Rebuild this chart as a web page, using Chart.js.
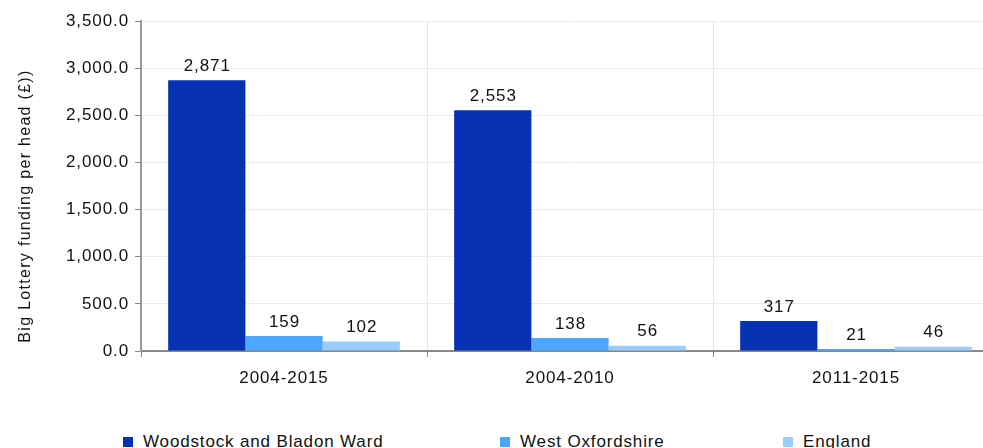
<!DOCTYPE html>
<html><head><meta charset="utf-8">
<script src="https://cdn.jsdelivr.net/npm/chart.js@4"></script>
<style>
html,body{margin:0;padding:0;background:#fff;overflow:hidden;width:983px;height:448px;}
#wrap{position:absolute;left:0;top:0;width:1000px;height:400px;}
.lg{position:absolute;top:431px;font:17px "Liberation Sans",Arial,sans-serif;letter-spacing:0.85px;color:#111;white-space:nowrap;line-height:22px;}
.lg i{display:inline-block;width:10px;height:10px;margin-right:10px;vertical-align:0px;}
</style></head><body>
<div id="wrap"><canvas id="c" width="1000" height="400"></canvas></div>
<div class="lg" style="left:123px"><i style="background:#0531B2"></i>Woodstock and Bladon Ward</div>
<div class="lg" style="left:500px"><i style="background:#4DA6FF"></i>West Oxfordshire</div>
<div class="lg" style="left:783px"><i style="background:#99CCFF"></i>England</div>
<script>
const categories = ["2004-2015", "2004-2010", "2011-2015"];
const seriesNames = ["Woodstock and Bladon Ward", "West Oxfordshire", "England"];
const woodstock = [2871, 2553, 317];
const westOxon = [159, 138, 21];
const england = [102, 56, 46];
const colors = ["#0531B2", "#4DA6FF", "#99CCFF"];
const yTitle = "Big Lottery funding per head (£))";

const FAM = '"Liberation Sans", Arial, sans-serif';

const spacingPlugin = {
  id: 'spacing',
  beforeInit(chart) { chart.ctx.letterSpacing = '0.9px'; },
  beforeLayout(chart) { chart.ctx.letterSpacing = '0.9px'; },
  beforeDraw(chart) { chart.ctx.letterSpacing = '0.9px'; }
};

const labelPlugin = {
  id: 'vals',
  afterDatasetsDraw(chart) {
    const ctx = chart.ctx;
    ctx.save();
    ctx.letterSpacing = '0.9px';
    ctx.font = '17px ' + FAM;
    ctx.fillStyle = '#111';
    ctx.textAlign = 'center';
    ctx.textBaseline = 'middle';
    chart.data.datasets.forEach((ds, i) => {
      chart.getDatasetMeta(i).data.forEach((bar, j) => {
        ctx.fillText(ds.data[j].toLocaleString('en-GB'), bar.x + 0.5, bar.y - 14);
      });
    });
    // y-axis title
    ctx.letterSpacing = '1.3px';
    ctx.font = '16px ' + FAM;
    ctx.translate(26, 206);
    ctx.rotate(-Math.PI / 2);
    ctx.fillText(yTitle, 0, 0);
    ctx.restore();
  }
};

const font = {family: FAM, size: 17};
new Chart(document.getElementById('c'), {
  type: 'bar',
  data: {
    labels: categories,
    datasets: [woodstock, westOxon, england].map((d, i) => ({
      label: seriesNames[i], data: d, backgroundColor: colors[i],
      barPercentage: 1.0, categoryPercentage: 0.81
    }))
  },
  options: {
    responsive: false, animation: false,
    layout: {padding: {top: 21, right: 1, left: 0, bottom: 0}},
    plugins: {legend: {display: false}, tooltip: {enabled: false}},
    scales: {
      x: {
        grid: {color: '#e6e6e6', tickColor: '#888', tickLength: 6, offset: true},
        border: {color: '#888', width: 2},
        ticks: {color: '#111', font: font, padding: 11},
        afterFit(s) { s.height = 49; }
      },
      y: {
        min: 0, max: 3500,
        grid: {color: '#ebebeb', tickColor: '#888', tickLength: 6},
        border: {color: '#999', width: 2},
        ticks: {stepSize: 500, color: '#111', font: font, padding: 6,
          callback: v => v.toLocaleString('en-GB', {minimumFractionDigits: 1, maximumFractionDigits: 1})},
        afterFit(s) { s.width = 141; }
      }
    }
  },
  plugins: [spacingPlugin, labelPlugin]
});
</script>
</body></html>
